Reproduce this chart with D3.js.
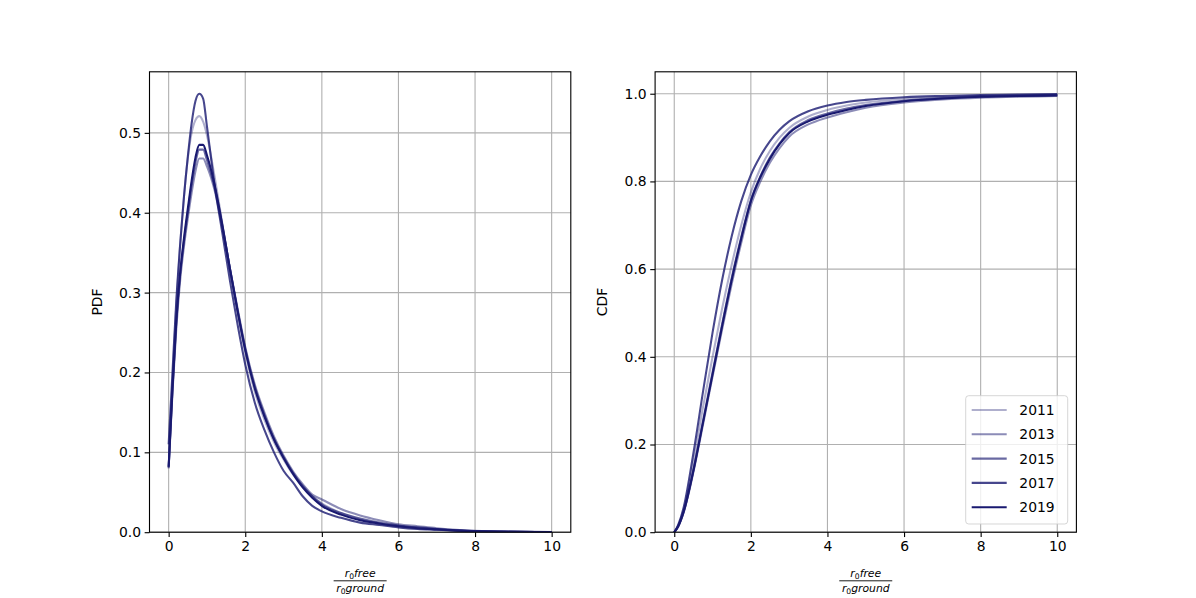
<!DOCTYPE html>
<html>
<head>
<meta charset="utf-8">
<script src="https://cdn.jsdelivr.net/npm/d3@7"></script>
<style>
  html, body { margin: 0; padding: 0; background: #fff; }
  svg { display: block; }
  text { font-family: "DejaVu Sans", sans-serif; fill: #000; }
</style>
</head>
<body>
<svg id="chart" width="1196" height="598"></svg>
<script>
// ---------- data ----------
const years = ["2011", "2013", "2015", "2017", "2019"];
const seriesAlpha = [0.35, 0.5, 0.65, 0.8, 1.0];

const pdfX = [0, 0.1, 0.2, 0.3, 0.4, 0.5, 0.6, 0.7, 0.8, 0.9, 1.0, 1.2, 1.4, 1.6, 1.8, 2.0, 2.25, 2.5, 2.75, 3.0, 3.25, 3.5, 3.75, 4.0, 4.5, 5.0, 5.5, 6.0, 6.5, 7.0, 7.5, 8.0, 9.0, 10.0];
const pdf2011 = [0.08, 0.19, 0.285, 0.36, 0.42, 0.468, 0.5, 0.516, 0.521, 0.514, 0.497, 0.445, 0.387, 0.329, 0.275, 0.225, 0.176, 0.141, 0.113, 0.091, 0.072, 0.057, 0.045, 0.036, 0.024, 0.016, 0.011, 0.008, 0.0055, 0.0035, 0.002, 0.0012, 0.0005, 0.0002];
const pdf2013 = [0.08, 0.175, 0.255, 0.315, 0.358, 0.393, 0.425, 0.452, 0.468, 0.468, 0.458, 0.428, 0.382, 0.33, 0.28, 0.232, 0.185, 0.15, 0.12, 0.096, 0.076, 0.06, 0.047, 0.041, 0.029, 0.021, 0.015, 0.01, 0.0075, 0.005, 0.003, 0.0018, 0.0007, 0.0003];
const pdf2015 = [0.082, 0.178, 0.262, 0.322, 0.364, 0.4, 0.435, 0.463, 0.479, 0.479, 0.466, 0.432, 0.384, 0.33, 0.278, 0.23, 0.182, 0.147, 0.117, 0.094, 0.074, 0.058, 0.045, 0.035, 0.024, 0.017, 0.012, 0.0085, 0.006, 0.004, 0.0025, 0.0014, 0.0006, 0.0002];
const pdf2017 = [0.11, 0.2, 0.29, 0.36, 0.42, 0.47, 0.512, 0.54, 0.549, 0.543, 0.508, 0.435, 0.375, 0.315, 0.26, 0.21, 0.162, 0.128, 0.1, 0.077, 0.062, 0.045, 0.033, 0.026, 0.018, 0.012, 0.009, 0.006, 0.004, 0.003, 0.002, 0.001, 0.0004, 0.0001];
const pdf2019 = [0.082, 0.18, 0.265, 0.325, 0.368, 0.405, 0.44, 0.469, 0.485, 0.485, 0.472, 0.435, 0.385, 0.33, 0.277, 0.228, 0.18, 0.145, 0.116, 0.093, 0.073, 0.056, 0.043, 0.033, 0.022, 0.015, 0.011, 0.0075, 0.005, 0.0035, 0.0022, 0.0013, 0.0005, 0.0002];

const cdfX = [0, 0.1, 0.25, 0.5, 0.75, 1.0, 1.25, 1.5, 1.75, 2.0, 2.25, 2.5, 2.75, 3.0, 3.5, 4.0, 4.5, 5.0, 6.0, 7.0, 8.0, 9.0, 10.0];
const cdf2011 = [0, 0.014, 0.053, 0.16, 0.285, 0.4, 0.51, 0.61, 0.7, 0.775, 0.83, 0.87, 0.9, 0.922, 0.948, 0.963, 0.973, 0.98, 0.988, 0.992, 0.995, 0.996, 0.997];
const cdf2013 = [0, 0.012, 0.046, 0.137, 0.245, 0.355, 0.463, 0.566, 0.66, 0.745, 0.8, 0.843, 0.876, 0.902, 0.93, 0.946, 0.958, 0.968, 0.98, 0.987, 0.991, 0.993, 0.995];
const cdf2015 = [0, 0.013, 0.048, 0.142, 0.253, 0.365, 0.475, 0.58, 0.674, 0.757, 0.812, 0.855, 0.887, 0.912, 0.94, 0.955, 0.966, 0.974, 0.984, 0.99, 0.994, 0.996, 0.997];
const cdf2017 = [0, 0.016, 0.058, 0.18, 0.32, 0.455, 0.575, 0.675, 0.755, 0.815, 0.858, 0.892, 0.918, 0.937, 0.96, 0.973, 0.981, 0.986, 0.992, 0.995, 0.997, 0.998, 0.999];
const cdf2019 = [0, 0.013, 0.048, 0.14, 0.25, 0.36, 0.47, 0.575, 0.67, 0.755, 0.81, 0.852, 0.885, 0.91, 0.937, 0.952, 0.963, 0.972, 0.983, 0.989, 0.993, 0.995, 0.996];

const xTicks = [0, 2, 4, 6, 8, 10];
const pdfTicks = [0.0, 0.1, 0.2, 0.3, 0.4, 0.5];
const cdfTicks = [0.0, 0.2, 0.4, 0.6, 0.8, 1.0];

const pdfSeries = [pdf2011, pdf2013, pdf2015, pdf2017, pdf2019];
const cdfSeries = [cdf2011, cdf2013, cdf2015, cdf2017, cdf2019];

// ---------- layout ----------
const plotTop = 71.8, plotBottom = 532.2;
const panels = [
  { left: 149.5, right: 570.8, xs: pdfX, ys: pdfSeries, yMax: 0.549 * 1.05, ticks: pdfTicks, label: "PDF", labelX: 97 },
  { left: 655.1, right: 1076.4, xs: cdfX, ys: cdfSeries, yMax: 1.05, ticks: cdfTicks, label: "CDF", labelX: 602 }
];
const color = "#191970";
const fs = 13.9;
const lw = 1.11;

const svg = d3.select("#chart");

panels.forEach((p, pi) => {
  const x = d3.scaleLinear().domain([-0.5, 10.5]).range([p.left, p.right]);
  const y = d3.scaleLinear().domain([0, p.yMax]).range([plotBottom, plotTop]);
  const g = svg.append("g");

  const clipId = "clip" + pi;
  svg.append("clipPath").attr("id", clipId)
    .append("rect").attr("x", p.left).attr("y", plotTop)
    .attr("width", p.right - p.left).attr("height", plotBottom - plotTop);

  // grid
  g.append("g").selectAll("line").data(xTicks).join("line")
    .attr("x1", d => x(d)).attr("x2", d => x(d))
    .attr("y1", plotTop).attr("y2", plotBottom)
    .attr("stroke", "#b0b0b0").attr("stroke-width", lw);
  g.append("g").selectAll("line").data(p.ticks).join("line")
    .attr("x1", p.left).attr("x2", p.right)
    .attr("y1", d => y(d)).attr("y2", d => y(d))
    .attr("stroke", "#b0b0b0").attr("stroke-width", lw);

  // lines
  const line = d3.line().curve(d3.curveMonotoneX);
  const lg = g.append("g").attr("clip-path", `url(#${clipId})`);
  p.ys.forEach((vals, i) => {
    lg.append("path")
      .attr("d", line(p.xs.map((xv, k) => [x(xv), y(vals[k])])))
      .attr("fill", "none")
      .attr("stroke", color)
      .attr("stroke-opacity", seriesAlpha[i])
      .attr("stroke-width", 2.08)
      .attr("stroke-linejoin", "round")
      .attr("stroke-linecap", "butt");
  });

  // axes
  const xAxis = d3.axisBottom(x).tickValues(xTicks).tickFormat(d3.format("d"))
    .tickSizeOuter(0).tickSizeInner(4.86).tickPadding(3.6);
  const yAxis = d3.axisLeft(y).tickValues(p.ticks).tickFormat(d3.format(".1f"))
    .tickSizeOuter(0).tickSizeInner(4.86).tickPadding(3.6);
  const gx = g.append("g").attr("transform", `translate(0,${plotBottom})`).call(xAxis);
  const gy = g.append("g").attr("transform", `translate(${p.left},0)`).call(yAxis);
  [gx, gy].forEach(a => {
    a.select(".domain").remove();
    a.selectAll(".tick line").attr("stroke", "#000").attr("stroke-width", lw);
    a.selectAll(".tick text").attr("font-size", fs).attr("font-family", "DejaVu Sans").attr("fill", "#000");
  });

  // spines
  g.append("rect").attr("x", p.left).attr("y", plotTop)
    .attr("width", p.right - p.left).attr("height", plotBottom - plotTop)
    .attr("fill", "none").attr("stroke", "#000").attr("stroke-width", lw);

  // y label
  g.append("text")
    .attr("transform", `translate(${p.labelX},${(plotTop + plotBottom) / 2}) rotate(-90)`)
    .attr("text-anchor", "middle").attr("dy", "0.35em")
    .attr("font-size", fs).text(p.label);

  // x label: fraction r0free / r0ground
  const cx = (p.left + p.right) / 2;
  const num = g.append("text").attr("x", cx).attr("y", 576.7)
    .attr("text-anchor", "middle").attr("font-size", 10.8);
  num.append("tspan").attr("font-style", "italic").text("r");
  num.append("tspan").attr("font-size", 7.6).attr("dy", 2).text("0");
  num.append("tspan").attr("font-style", "italic").attr("dy", -2).text("free");
  const den = g.append("text").attr("x", cx).attr("y", 592.3)
    .attr("text-anchor", "middle").attr("font-size", 10.8);
  den.append("tspan").attr("font-style", "italic").text("r");
  den.append("tspan").attr("font-size", 7.6).attr("dy", 2).text("0");
  den.append("tspan").attr("font-style", "italic").attr("dy", -2).text("ground");
  g.append("line").attr("x1", cx - 26.5).attr("x2", cx + 26.5)
    .attr("y1", 580.8).attr("y2", 580.8)
    .attr("stroke", "#000").attr("stroke-width", 0.9);

  // legend on CDF panel
  if (pi === 1) {
    const leg = g.append("g");
    leg.append("rect").attr("x", 965.7).attr("y", 395.7)
      .attr("width", 102).attr("height", 128.3).attr("rx", 3)
      .attr("fill", "#fff").attr("fill-opacity", 0.8)
      .attr("stroke", "#cccccc").attr("stroke-opacity", 0.8).attr("stroke-width", 1);
    years.forEach((yr, i) => {
      const ly = 410 + i * 24.3;
      leg.append("line").attr("x1", 971.7).attr("x2", 1006.7)
        .attr("y1", ly).attr("y2", ly)
        .attr("stroke", color).attr("stroke-opacity", seriesAlpha[i]).attr("stroke-width", 2.08);
      leg.append("text").attr("x", 1019.3).attr("y", ly).attr("dy", "0.36em")
        .attr("font-size", fs).text(yr);
    });
  }
});
</script>
</body>
</html>
